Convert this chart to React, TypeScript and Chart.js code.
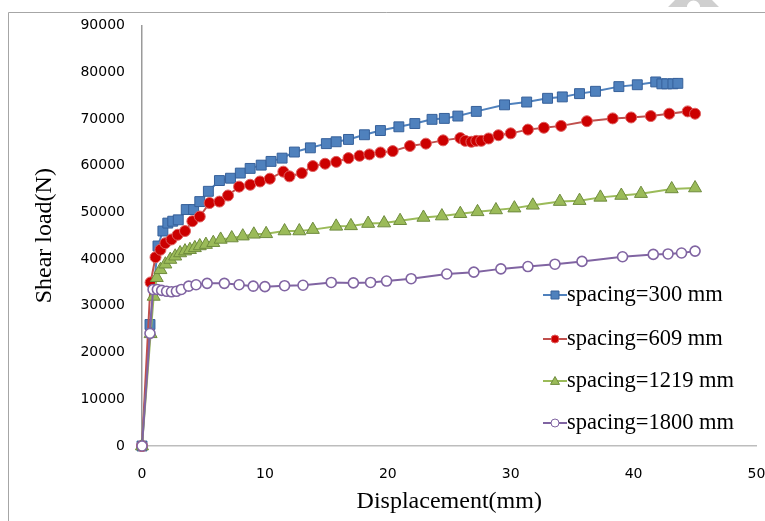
import React, { useEffect, useRef } from 'react';
import { Chart, registerables } from 'chart.js';

Chart.register(...registerables);

// ---- data ----
const X_300 = [0, 0.65, 1.3, 1.7, 2.1, 2.5, 2.95, 3.6, 4.2, 4.7, 5.4, 6.3, 7.2, 8.0, 8.8, 9.7, 10.5, 11.4, 12.4, 13.7, 15.0, 15.8, 16.8, 18.1, 19.4, 20.9, 22.2, 23.6, 24.6, 25.7, 27.2, 29.5, 31.3, 33.0, 34.2, 35.6, 36.9, 38.8, 40.3, 41.8, 42.3, 42.7, 43.2, 43.6];
const Y_300 = [0, 26000, 42800, 46000, 47700, 48100, 48400, 50600, 50600, 52300, 54500, 56800, 57300, 58400, 59400, 60100, 60900, 61600, 62900, 63800, 64700, 65100, 65600, 66600, 67500, 68300, 69000, 69900, 70100, 70600, 71600, 73000, 73600, 74400, 74700, 75400, 75900, 76900, 77300, 77900, 77500, 77500, 77500, 77600];

const X_609 = [0, 0.7, 1.1, 1.5, 1.9, 2.4, 2.9, 3.5, 4.1, 4.7, 5.5, 6.3, 7.0, 7.9, 8.8, 9.6, 10.4, 11.5, 12.0, 13.0, 13.9, 14.9, 15.8, 16.8, 17.7, 18.5, 19.4, 20.4, 21.8, 23.1, 24.5, 25.9, 26.3, 26.8, 27.2, 27.6, 28.2, 29.0, 30.0, 31.4, 32.7, 34.1, 36.2, 38.3, 39.8, 41.4, 42.9, 44.4, 45.0];
const Y_609 = [0, 35000, 40400, 42000, 43400, 44200, 45200, 46000, 48100, 49100, 52000, 52300, 53600, 55500, 55900, 56600, 57200, 58700, 57700, 58400, 59900, 60400, 60800, 61600, 62100, 62400, 62800, 63100, 64200, 64700, 65400, 65900, 65300, 65100, 65300, 65300, 65800, 66500, 66900, 67700, 68100, 68500, 69500, 70100, 70300, 70600, 71100, 71600, 71100];

const X_1219 = [0, 0.7, 0.95, 1.2, 1.5, 1.9, 2.3, 2.7, 3.1, 3.5, 3.9, 4.3, 4.7, 5.2, 5.8, 6.4, 7.3, 8.2, 9.1, 10.1, 11.6, 12.8, 13.9, 15.8, 17.0, 18.4, 19.7, 21.0, 22.9, 24.4, 25.9, 27.3, 28.8, 30.3, 31.8, 34.0, 35.6, 37.3, 39.0, 40.6, 43.1, 45.0];
const Y_1219 = [0, 24000, 32000, 36000, 37700, 38900, 39900, 40600, 41300, 41700, 42000, 42400, 42800, 43100, 43500, 44200, 44500, 44900, 45300, 45400, 46000, 46000, 46300, 47000, 47100, 47600, 47700, 48200, 48900, 49200, 49700, 50100, 50500, 50900, 51500, 52300, 52500, 53200, 53600, 54000, 55000, 55200];

const X_1800 = [0, 0.65, 0.9, 1.25, 1.6, 2.0, 2.4, 2.8, 3.2, 3.8, 4.4, 5.3, 6.7, 7.9, 9.05, 10.0, 11.6, 13.1, 15.4, 17.2, 18.6, 19.9, 21.9, 24.8, 27.0, 29.2, 31.4, 33.6, 35.8, 39.1, 41.6, 42.8, 43.9, 45.0];
const Y_1800 = [0, 24100, 33500, 33500, 33300, 33100, 33000, 33100, 33500, 34200, 34500, 34800, 34800, 34500, 34200, 34100, 34300, 34400, 35000, 34900, 35000, 35300, 35800, 36800, 37200, 37900, 38400, 38900, 39500, 40500, 41000, 41100, 41300, 41700];

const SERIES_NAMES = ['spacing=300 mm', 'spacing=609 mm', 'spacing=1219 mm', 'spacing=1800 mm'];
const X_TICKS = [0, 10, 20, 30, 40, 50];
const Y_TICKS = [0, 10000, 20000, 30000, 40000, 50000, 60000, 70000, 80000, 90000];

const pts = (xs: number[], ys: number[]) => xs.map((x, i) => ({ x, y: ys[i] }));

const STYLES = [
  { line: '#4F81BD', fill: '#4F81BD', border: '#36609A', shape: 'rect' },
  { line: '#C0504D', fill: '#CC0000', border: '#E06060', shape: 'circle' },
  { line: '#9BBB59', fill: '#9BBB59', border: '#6E8B3D', shape: 'triangle' },
  { line: '#8064A2', fill: '#FFFFFF', border: '#8064A2', shape: 'circle' },
];

function drawMarker(ctx: CanvasRenderingContext2D, shape: string, x: number, y: number, r: number, fill: string, border: string, bw: number) {
  ctx.save();
  ctx.fillStyle = fill;
  ctx.strokeStyle = border;
  ctx.lineWidth = bw;
  ctx.beginPath();
  if (shape === 'rect') {
    ctx.rect(x - r, y - r, 2 * r, 2 * r);
  } else if (shape === 'triangle') {
    ctx.moveTo(x, y - r);
    ctx.lineTo(x + r, y + r * 0.75);
    ctx.lineTo(x - r, y + r * 0.75);
    ctx.closePath();
  } else {
    ctx.arc(x, y, r, 0, Math.PI * 2);
  }
  ctx.fill();
  ctx.stroke();
  ctx.restore();
}

const framePlugin = {
  id: 'frame',
  beforeDraw(chart: any) {
    const ctx = chart.ctx as CanvasRenderingContext2D;
    ctx.save();
    ctx.fillStyle = '#FFFFFF';
    ctx.fillRect(0, 0, chart.width, chart.height);
    ctx.strokeStyle = '#A6A6A6';
    ctx.lineWidth = 1;
    ctx.beginPath();
    ctx.moveTo(8.5, chart.height);
    ctx.lineTo(8.5, 12.5);
    ctx.lineTo(chart.width, 12.5);
    ctx.stroke();
    // faint watermark fragment at the top edge
    ctx.fillStyle = '#CFCFCF';
    ctx.beginPath();
    ctx.moveTo(668, 7);
    ctx.lineTo(675, 0);
    ctx.lineTo(712, 0);
    ctx.lineTo(719, 7);
    ctx.lineTo(700, 7);
    ctx.arc(693.5, 7, 6.5, 0, Math.PI, true);
    ctx.closePath();
    ctx.fill();
    ctx.restore();
  },
};

const legendPlugin = {
  id: 'customLegend',
  afterDraw(chart: any) {
    const ctx = chart.ctx as CanvasRenderingContext2D;
    const rowsY = [295, 339, 381, 423];
    ctx.save();
    SERIES_NAMES.forEach((name, i) => {
      const s = STYLES[i];
      const y = rowsY[i];
      ctx.strokeStyle = s.line;
      ctx.lineWidth = 2;
      ctx.beginPath();
      ctx.moveTo(543, y);
      ctx.lineTo(567, y);
      ctx.stroke();
      const r = s.shape === 'rect' ? 4 : s.shape === 'triangle' ? 4.5 : 4;
      drawMarker(ctx, s.shape, 555, y, r, s.fill, s.border, 1);
      ctx.fillStyle = '#000000';
      ctx.font = '22.5px "Liberation Serif", "Times New Roman", serif';
      ctx.textAlign = 'left';
      ctx.textBaseline = 'middle';
      ctx.fillText(name, 567, y);
    });
    ctx.restore();
  },
};

export default function App() {
  const ref = useRef<HTMLCanvasElement | null>(null);

  useEffect(() => {
    if (!ref.current) return;
    const all = [pts(X_300, Y_300), pts(X_609, Y_609), pts(X_1219, Y_1219), pts(X_1800, Y_1800)];
    const radii = [7, 5.5, 7.5, 5];
    const bws = [1, 1, 1, 1.6];
    const orders = [4, 3, 2, 1];
    const chart = new Chart(ref.current, {
      type: 'line',
      data: {
        datasets: all.map((d, i) => ({
          label: SERIES_NAMES[i],
          data: d,
          borderColor: STYLES[i].line,
          backgroundColor: STYLES[i].fill,
          borderWidth: 2,
          pointStyle: STYLES[i].shape as any,
          pointRadius: radii[i],
          pointBackgroundColor: STYLES[i].fill,
          pointBorderColor: STYLES[i].border,
          pointBorderWidth: bws[i],
          tension: 0,
          fill: false,
          clip: false as any,
          order: orders[i],
        })),
      },
      options: {
        responsive: false,
        animation: false,
        layout: { padding: { left: 26, right: 8, top: 23, bottom: 1 } },
        plugins: {
          legend: { display: false },
          tooltip: { enabled: false },
        },
        scales: {
          x: {
            type: 'linear',
            min: 0,
            max: 50,
            afterBuildTicks: (s: any) => { s.ticks = X_TICKS.map((v) => ({ value: v })); },
            afterFit: (s: any) => { s.height = 74; s.paddingLeft = 0; s.paddingRight = 0; },
            ticks: {
              color: '#000000',
              font: { family: '"DejaVu Sans", sans-serif', size: 14 },
              padding: 2,
              maxRotation: 0,
            },
            grid: { display: false, drawTicks: true, tickLength: 18 },
            border: { display: true, color: '#BDBDBD', width: 1.5 },
            title: {
              display: true,
              text: 'Displacement(mm)',
              color: '#000000',
              font: { family: '"Liberation Serif", "Times New Roman", serif', size: 24 },
              padding: { top: 4, bottom: 4 },
            },
          },
          y: {
            type: 'linear',
            min: 0,
            max: 90000,
            afterBuildTicks: (s: any) => { s.ticks = Y_TICKS.map((v) => ({ value: v })); },
            afterFit: (s: any) => { s.width = 116; },
            ticks: {
              color: '#000000',
              font: { family: '"DejaVu Sans", sans-serif', size: 14 },
              padding: 17,
              callback: (v: any) => String(v),
            },
            grid: { display: false, drawTicks: false },
            border: { display: true, color: '#9A9A9A', width: 1.5 },
            title: {
              display: true,
              text: 'Shear load(N)',
              color: '#000000',
              font: { family: '"Liberation Serif", "Times New Roman", serif', size: 24 },
              padding: { top: 4, bottom: 4 },
            },
          },
        },
      },
      plugins: [framePlugin, legendPlugin],
    } as any);
    return () => chart.destroy();
  }, []);

  return (
    <div style={{ position: 'fixed', left: 0, top: 0, width: 765, height: 521, overflow: 'hidden', background: '#fff' }}>
      <canvas ref={ref} width={765} height={521} style={{ display: 'block', width: 765, height: 521 }} />
    </div>
  );
}
